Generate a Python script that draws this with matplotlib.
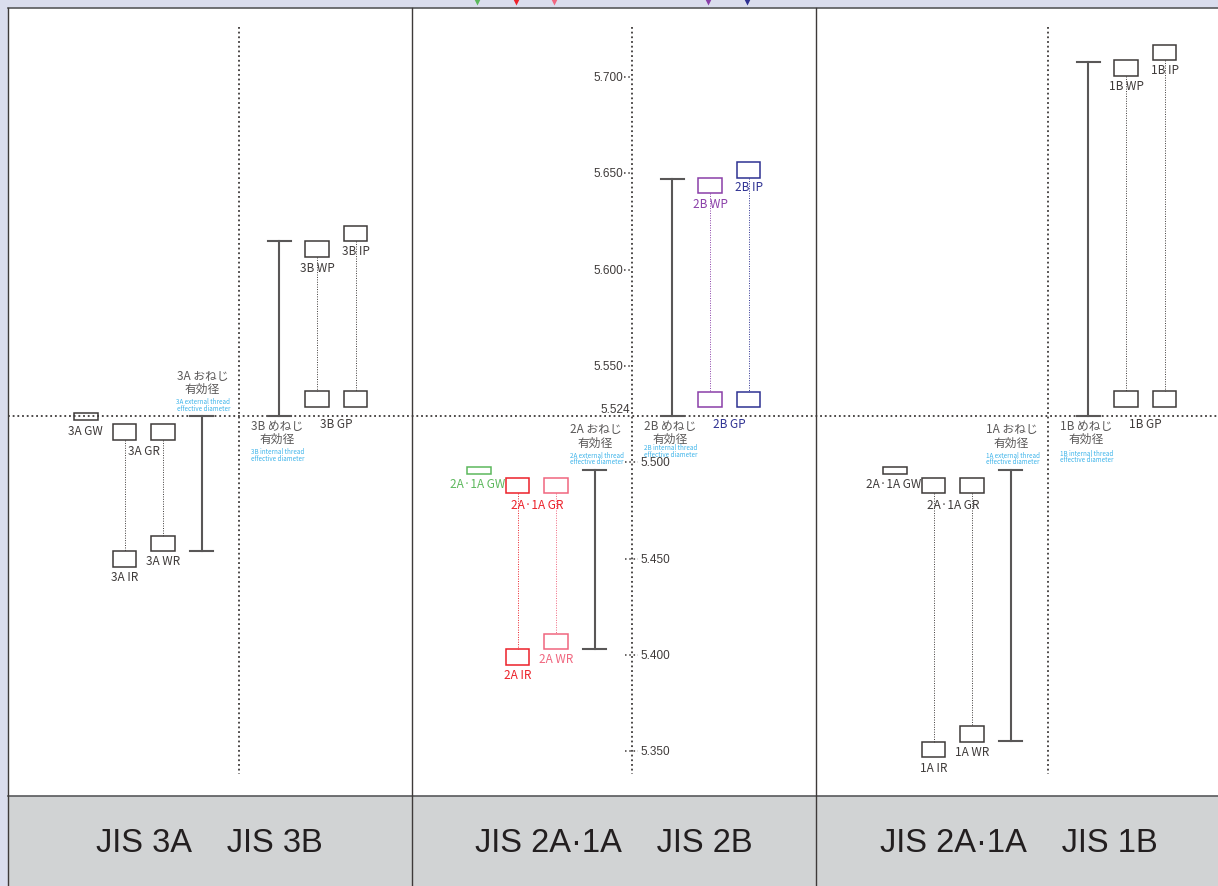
import matplotlib.pyplot as plt
from matplotlib.patches import Rectangle

# ---- values (mm) ----
panel_titles = ['JIS 3A    JIS 3B', 'JIS 2A·1A    JIS 2B', 'JIS 2A·1A    JIS 1B']
ext_names = ['3A', '2A', '1A']
int_names = ['3B', '2B', '1B']
gw_names = ['3A', '2A·1A', '2A·1A']
basic = 5.524
ext_max = [5.524, 5.496, 5.496]
ext_min = [5.454, 5.403, 5.355]
int_min = [5.524, 5.524, 5.524]
int_max = [5.615, 5.647, 5.708]
gw = [5.5237, 5.4958, 5.4958]
gr = [5.5157, 5.4879, 5.4879]
ir = [5.4498, 5.3990, 5.3508]
wr = [5.4578, 5.4069, 5.3588]
gp = [5.5327, 5.5326, 5.5327]
wp = [5.6106, 5.6436, 5.7047]
ip = [5.6187, 5.6516, 5.7127]
ticks_up = [5.700, 5.650, 5.600, 5.550]
ticks_down = [5.500, 5.450, 5.400, 5.350]

# ---- layout (pixels) ----
W, H = 1218, 887
PX = 1926.0          # pixels per mm
ROW0 = 417           # pixel row of the basic diameter


def yv(py):
    return basic + (ROW0 - py) / PX


axis_x = [239, 632, 1048]
edges = [7.5, 412, 816, 1240]
BAND = 797
RW, RH, GWH = 23.5, 15.5 / PX, 7.3 / PX
OFF = dict(gw=-153, gr1=-114.3, gr2=-76, ext=-37.5, int=40, wp=78, ip=116.7)
BLUE_DY = [(35, 41.5), (31, 38), (36.5, 43)]

DARK = '#3e3a39'
GRAY = '#595757'
BLUE = '#3db4ea'
cols = [
    dict(gw=DARK, gr1=DARK, gr2=DARK, wp=DARK, ip=DARK, gr_lab=DARK, gp_lab=DARK, lab=GRAY),
    dict(gw='#5cb85c', gr1='#ec2129', gr2='#f0667f', wp='#8a3fa8', ip='#2e3192',
         gr_lab='#ec2129', gp_lab='#2e3192', lab=GRAY),
    dict(gw=DARK, gr1=DARK, gr2=DARK, wp=DARK, ip=DARK, gr_lab=DARK, gp_lab=DARK, lab=GRAY),
]
NARROW = ['Liberation Sans Narrow', 'Noto Sans CJK JP']
SANS = ['Liberation Sans', 'DejaVu Sans']

fig = plt.figure(figsize=(W / 100, H / 100), dpi=100)
fig.patch.set_facecolor('#dadded')
ax = fig.add_axes([0, 0, 1, 1])
ax.set_xlim(0, W)
ax.set_ylim(yv(H), yv(0))
ax.axis('off')

# panels and bottom band
ax.add_patch(Rectangle((edges[0], yv(H)), W, yv(8.5) - yv(H), fc='white', ec='none', zorder=0))
ax.add_patch(Rectangle((edges[0], yv(H)), W, yv(BAND) - yv(H), fc='#d1d3d4', ec='none', zorder=0))
ax.plot([edges[0], W], [yv(8.5), yv(8.5)], color='#58595b', lw=1.2)
ax.plot([edges[0], W], [yv(BAND), yv(BAND)], color='#58595b', lw=1.2)
for e in edges[:3]:
    ax.plot([e, e], [yv(8.5), yv(H)], color='#3e3a39', lw=1.0)

# basic diameter line
ax.plot([edges[0], W], [basic, basic], color=DARK, lw=1.3, ls=(0, (1, 1.6)))


def pt(px):
    return px * 0.72


def label(x, v, txt, dy, color, size=8.5, fam=NARROW):
    ax.annotate(txt, (x, v), xytext=(0, -pt(dy)), textcoords='offset points',
                ha='center', va='center', fontsize=size, color=color, family=fam)


def box(x, v, color, h=RH):
    ax.add_patch(Rectangle((x - RW / 2, v - h / 2), RW, h, fill=False, ec=color, lw=1.1, zorder=3))


def link(x, v0, v1, color):
    ax.plot([x, x], [v0, v1], color=color, lw=0.7, ls=(0, (1, 1.5)), zorder=2)


def ibeam(x, v0, v1):
    ax.plot([x, x], [v0, v1], color=GRAY, lw=1.5, zorder=2)
    for v in (v0, v1):
        ax.plot([x - 11.5, x + 11.5], [v, v], color=GRAY, lw=1.5, zorder=2)


for i in range(3):
    c = cols[i]
    a = axis_x[i]
    # vertical axis (dotted)
    ax.plot([a, a], [yv(28), yv(775)], color=DARK, lw=1.3, ls=(0, (1, 1.6)))

    # external thread gauges
    x_gw, x_gr1, x_gr2 = a + OFF['gw'], a + OFF['gr1'], a + OFF['gr2']
    box(x_gw, gw[i], c['gw'], GWH)
    label(x_gw - 1, gw[i], gw_names[i] + ' GW', 13.5, c['gw'])
    box(x_gr1, gr[i], c['gr1'])
    box(x_gr2, gr[i], c['gr2'])
    label((x_gr1 + x_gr2) / 2, gr[i], gw_names[i] + ' GR', 18.5, c['gr_lab'])
    box(x_gr1, ir[i], c['gr1'])
    label(x_gr1, ir[i], ext_names[i] + ' IR', 18, c['gr1'])
    box(x_gr2, wr[i], c['gr2'])
    label(x_gr2, wr[i], ext_names[i] + ' WR', 17, c['gr2'])
    link(x_gr1, gr[i] - RH / 2, ir[i] + RH / 2, c['gr1'])
    link(x_gr2, gr[i] - RH / 2, wr[i] + RH / 2, c['gr2'])

    # external thread tolerance
    xe = a + OFF['ext']
    ibeam(xe, ext_min[i], ext_max[i])
    label(xe + 1, ext_max[i], ext_names[i] + ' おねじ', -41, c['lab'], 8.5)
    label(xe + 1, ext_max[i], '有効径', -27.5, c['lab'], 8.5)
    label(xe + 2, ext_max[i], ext_names[i] + ' external thread', -15, BLUE, 4.5)
    label(xe + 2, ext_max[i], 'effective diameter', -8.5, BLUE, 4.5)

    # internal thread tolerance
    xi = a + OFF['int']
    ibeam(xi, int_min[i], int_max[i])
    label(xi - 2, int_min[i], int_names[i] + ' めねじ', 9.5, c['lab'], 8.5)
    label(xi - 2, int_min[i], '有効径', 22, c['lab'], 8.5)
    label(xi - 1, int_min[i], int_names[i] + ' internal thread', BLUE_DY[i][0], BLUE, 4.5)
    label(xi - 1, int_min[i], 'effective diameter', BLUE_DY[i][1], BLUE, 4.5)

    # internal thread gauges
    x_wp, x_ip = a + OFF['wp'], a + OFF['ip']
    box(x_wp, gp[i], c['wp'])
    box(x_ip, gp[i], c['ip'])
    label((x_wp + x_ip) / 2, gp[i], int_names[i] + ' GP', 24, c['gp_lab'])
    box(x_wp, wp[i], c['wp'])
    label(x_wp, wp[i], int_names[i] + ' WP', 18, c['wp'])
    box(x_ip, ip[i], c['ip'])
    label(x_ip, ip[i], int_names[i] + ' IP', 16.5, c['ip'])
    link(x_wp, wp[i] - RH / 2, gp[i] + RH / 2, c['wp'])
    link(x_ip, ip[i] - RH / 2, gp[i] + RH / 2, c['ip'])

    # panel title
    ax.text((edges[i] + min(edges[i + 1], W + 4)) / 2, yv(843), panel_titles[i],
            ha='center', va='center', fontsize=23.5, color='#231f20', family=SANS)

# scale on the middle panel
a = axis_x[1]
for t in ticks_up:
    ax.plot([a - 8, a], [t, t], color=DARK, lw=1.1, ls=(0, (1, 1.8)))
    ax.text(a - 9, t, f'{t:.3f}', ha='right', va='center', fontsize=8.5, color=DARK, family=SANS)
for t in ticks_down:
    ax.plot([a - 7, a + 6], [t, t], color=DARK, lw=1.1, ls=(0, (1, 1.8)))
    ax.text(a + 8, t, f'{t:.3f}', ha='left', va='center', fontsize=8.5, color=DARK, family=SANS)
ax.text(a - 2, basic + 1 / PX, f'{basic:.3f}', ha='right', va='bottom', fontsize=8.5,
        color=DARK, family=SANS)

# pointer marks peeking in at the top
c = cols[1]
tops = [(a + OFF['gw'], c['gw']), (a + OFF['gr1'], c['gr1']), (a + OFF['gr2'], c['gr2']),
        (a + OFF['wp'], c['wp']), (a + OFF['ip'], c['ip'])]
for x, col in tops:
    ax.plot(x - 2, yv(1.5), marker='v', ms=6, color=col, mec='none', clip_on=False)

fig.savefig('out.png', dpi=100, facecolor=fig.get_facecolor())
